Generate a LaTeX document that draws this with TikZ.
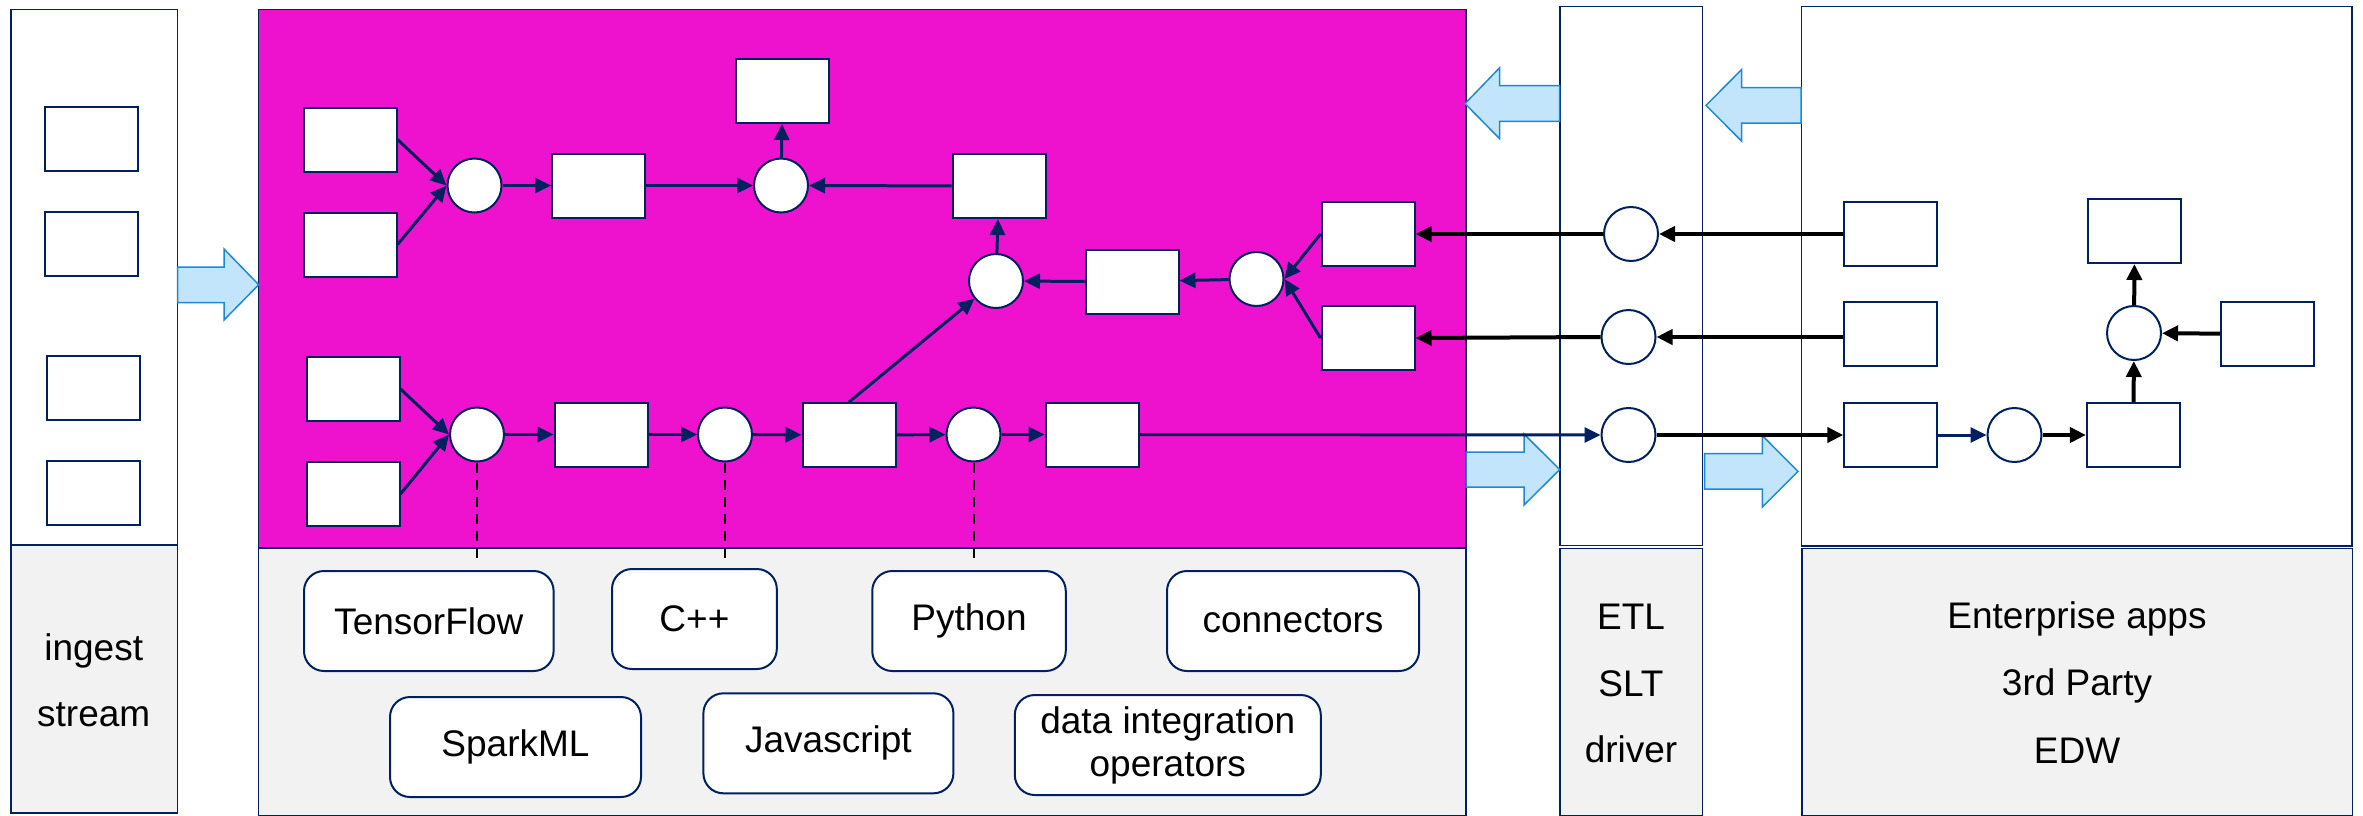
\documentclass[tikz,border=0pt]{standalone}
\usepackage{fontspec}
\setmainfont{Liberation Sans}
\usetikzlibrary{arrows.meta}
\definecolor{navy}{RGB}{0,32,96}
\definecolor{magentafill}{RGB}{238,18,206}
\definecolor{panelgray}{RGB}{242,242,242}
\definecolor{arrowfill}{RGB}{195,229,252}
\definecolor{arrowline}{RGB}{30,136,216}

\begin{document}
\begin{tikzpicture}[x=1pt,y=-1pt,
  panel/.style={draw=navy, line width=1.5pt},
  box/.style={draw=navy, fill=white, line width=2pt, minimum width=93pt, minimum height=64pt, inner sep=0pt},
  op/.style={draw=navy, fill=white, circle, line width=2pt, minimum size=54pt, inner sep=0pt},
  flow/.style={draw=navy, line width=3pt, -{Triangle[length=16pt,width=15pt]}},
  feed/.style={draw=black, line width=4pt, -{Triangle[length=16pt,width=15pt]}},
  link/.style={draw=black, line width=2pt, dash pattern=on 10pt off 7pt},
  tool/.style={draw=navy, fill=white, line width=2pt, rounded corners=20pt, minimum height=100pt, inner sep=0pt, align=center, font=\fontsize{37}{43}\selectfont},
  paneltext/.style={font=\fontsize{37}{43}\selectfont, anchor=base, inner sep=0pt},
  bigarrow/.style={draw=arrowline, fill=arrowfill, line width=1.5pt}
]
\useasboundingbox (0,0) rectangle (2363,815);

% ---------- panels ----------
\fill[white] (0,0) rectangle (2363,815);
\draw[panel, fill=white] (11,9.6) rectangle (177.5,545);
\draw[panel, fill=panelgray] (11,545) rectangle (177.5,813);
\draw[panel, fill=magentafill] (258.7,9.6) rectangle (1466,548);
\draw[panel, fill=panelgray] (258.7,548) rectangle (1466,816);
\draw[panel, fill=white] (1559.8,6.4) rectangle (1702.4,545.7);
\draw[panel, fill=panelgray] (1559.8,548.3) rectangle (1702.4,816);
\draw[panel, fill=white] (1801.5,6.4) rectangle (2352,546);
\draw[panel, fill=panelgray] (1802,548.3) rectangle (2352.6,816);

% ---------- block arrows between panels ----------
\draw[bigarrow] (177.6,267) -- (224,267) -- (224,249) -- (258.7,284.7)
  -- (224,320) -- (224,302.5) -- (177.6,302.5) -- cycle;
\draw[bigarrow] (1559.7,85.7) -- (1499.5,85.7) -- (1499.5,67.9) -- (1465,103.6)
  -- (1499.5,138.6) -- (1499.5,121.4) -- (1559.7,121.4) -- cycle;
\draw[bigarrow] (1801,87.5) -- (1741.5,87.5) -- (1741.5,69.6) -- (1706,105.4)
  -- (1741.5,141) -- (1741.5,123.2) -- (1801,123.2) -- cycle;
\draw[bigarrow] (1466,452) -- (1524,452) -- (1524,434) -- (1559.7,469.6)
  -- (1524,505) -- (1524,487) -- (1466,487) -- cycle;
\draw[bigarrow] (1704.7,453.6) -- (1762.4,453.6) -- (1762.4,435.7) -- (1798,471.4)
  -- (1762.4,507) -- (1762.4,489) -- (1704.7,489) -- cycle;

% ---------- ingest boxes ----------
\node[box] (L1) at (91,138.7) {};
\node[box] (L2) at (91,243.5) {};
\node[box] (L3) at (93.4,388) {};
\node[box] (L4) at (93.4,493) {};

% ---------- pipeline graph ----------
\node[box] (A1) at (350,139.5) {};
\node[box] (A2) at (350,244.5) {};
\node[box] (A3) at (353,389) {};
\node[box] (A4) at (353,494) {};
\node[op]  (C1) at (474.5,185.5) {};
\node[box] (B1) at (598.5,185.5) {};
\node[op]  (C2) at (781,185.5) {};
\node[box] (T)  at (782.5,91) {};
\node[box] (R1) at (999,186) {};
\node[op]  (Cm) at (996,281) {};
\node[box] (M)  at (1132,281.6) {};
\node[op]  (Cr) at (1256.5,279) {};
\node[box] (S1) at (1368,234) {};
\node[box] (S2) at (1368,338) {};
\node[op]  (C3) at (477,434.5) {};
\node[box] (B2) at (601,434.5) {};
\node[op]  (C4) at (725,434.5) {};
\node[box] (B3) at (849,435) {};
\node[op]  (C5) at (973.5,434.5) {};
\node[box] (B4) at (1092,434.5) {};

\draw[flow] (A1.east) -- (C1.west);
\draw[flow] (A2.east) -- (C1.west);
\draw[flow] (C1) -- (B1);
\draw[flow] (B1) -- (C2);
\draw[flow] (C2) -- (T);
\draw[flow] (R1) -- (C2);
\draw[flow] (Cm) -- (R1);
\draw[flow] (M) -- (Cm);
\draw[flow] (Cr) -- (M);
\draw[flow] (S1.west) -- (Cr.east);
\draw[flow] (S2.west) -- (Cr.east);
\draw[flow] (A3.east) -- (C3.west);
\draw[flow] (A4.east) -- (C3.west);
\draw[flow] (C3) -- (B2);
\draw[flow] (B2) -- (C4);
\draw[flow] (C4) -- (B3);
\draw[flow] (B3.north) -- (Cm);
\draw[flow] (B3) -- (C5);
\draw[flow] (C5) -- (B4);

% ---------- ETL / SLT / driver ----------
\node[op] (E1) at (1631,234) {};
\node[op] (E2) at (1628.5,337) {};
\node[op] (E3) at (1628.5,435) {};

% ---------- enterprise side ----------
\node[box] (X1) at (1890.8,234) {};
\node[box] (X2) at (1890,334) {};
\node[box] (X3) at (1890.8,435) {};
\node[op]  (Ce) at (2014.5,435) {};
\node[box] (X4) at (2133.4,435) {};
\node[op]  (Cu) at (2134,333) {};
\node[box] (X5) at (2134.6,231) {};
\node[box] (X6) at (2267.3,334) {};

\draw[feed] (X1.west) -- (E1.east);
\draw[feed] (E1.west) -- (S1.east);
\draw[feed] (X2.west |- E2) -- (E2.east);
\draw[feed] (E2.west) -- (S2.east);
\draw[flow] (B4.east) -- (E3.west);
\draw[feed] (E3.east) -- (X3.west);
\draw[flow] (X3) -- (Ce);
\draw[feed] (Ce) -- (X4);
\draw[feed] (X4) -- (Cu);
\draw[feed] (Cu) -- (X5);
\draw[feed] (X6) -- (Cu);

% ---------- runtimes and operators ----------
\node[tool, minimum width=249.6pt] (tf) at (428.8,621) {TensorFlow};
\node[tool, minimum width=164.8pt] (cpp) at (694.4,619) {C++};
\node[tool, minimum width=193.5pt] (py) at (969,621) {Python};
\node[tool, minimum width=252pt] (conn) at (1293,621) {connectors};
\node[tool, minimum width=251pt] (spark) at (515.5,747) {SparkML};
\node[tool, minimum width=250pt] (js) at (828.4,743.3) {Javascript};
\node[tool, minimum width=306pt] (dio) at (1167.8,745) {data integration\\operators};

\coordinate (d1) at (477,563);
\coordinate (d2) at (725,563);
\coordinate (d3) at (973.5,563);
\draw[link] (C3.south) -- (d1);
\draw[link] (C4.south) -- (d2);
\draw[link] (C5.south) -- (d3);

% ---------- panel captions ----------
\node[paneltext] (t1) at (93.7,660) {ingest};
\node[paneltext] (t2) at (93.7,726) {stream};
\node[paneltext] (t3) at (1631,629) {ETL};
\node[paneltext] (t4) at (1631,696) {SLT};
\node[paneltext] (t5) at (1631,762) {driver};
\node[paneltext] (t6) at (2077,628) {Enterprise apps};
\node[paneltext] (t7) at (2077,695) {3rd Party};
\node[paneltext] (t8) at (2077,763) {EDW};
\end{tikzpicture}
\end{document}
